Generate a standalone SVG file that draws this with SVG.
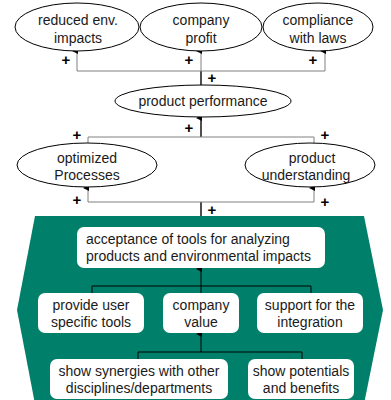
<svg xmlns="http://www.w3.org/2000/svg" width="391" height="400" viewBox="0 0 391 400">
<defs>
<style>
text{font-family:"Liberation Sans",Arial,sans-serif;font-size:14px;fill:#1a1a1a}
.c{text-anchor:middle}
.e{fill:#fff;stroke:#000;stroke-width:1}
.b{fill:#fff}
.g{fill:none;stroke:#808080;stroke-width:1}
.k{fill:none;stroke:#000;stroke-width:1}
.t{fill:none;stroke:#222;stroke-width:1.6}
.p{font-size:15px;font-weight:bold;fill:#000}
</style>
<marker id="ah" markerWidth="6" markerHeight="6" refX="3" refY="5" orient="auto-start-reverse" markerUnits="userSpaceOnUse" viewBox="0 0 6 6">
<path d="M0,6 L3,0 L6,6 Z" fill="#000"/>
</marker>
</defs>
<polygon points="35,216 364,216 383,310 364,404 35,404 17,310" fill="#00806A"/>
<g id="connectors">
<path class="t" d="M201,85 V71"/>
<path class="g" d="M77,71 H325"/>
<path class="g" d="M77,71 V51" marker-end="url(#ah)"/>
<path class="g" d="M201,71 V51" marker-end="url(#ah)"/>
<path class="g" d="M325,71 V51" marker-end="url(#ah)"/>
<path class="t" d="M201,137 V118" marker-end="url(#ah)"/>
<path class="g" d="M88,143 V137 H314 V143"/>
<path class="t" d="M201,216 V202"/>
<path class="g" d="M88,202 H314"/>
<path class="g" d="M88,202 V188" marker-end="url(#ah)"/>
<path class="g" d="M314,202 V188" marker-end="url(#ah)"/>
<path class="k" d="M92,293 V286 H311 V293"/>
<path class="k" d="M201,293 V269" marker-end="url(#ah)"/>
<path class="k" d="M138,359 V352 H302 V359"/>
<path class="k" d="M201,352 V334" marker-end="url(#ah)"/>
<text class="p c" x="66" y="65">+</text>
<text class="p c" x="189" y="65">+</text>
<text class="p c" x="313" y="65">+</text>
<text class="p c" x="212" y="83">+</text>
<text class="p c" x="189" y="133">+</text>
<text class="p c" x="77" y="140">+</text>
<text class="p c" x="325" y="140">+</text>
<text class="p c" x="77" y="205">+</text>
<text class="p c" x="325" y="207">+</text>
<text class="p c" x="212" y="215">+</text>
</g>
<g id="reduced"><ellipse class="e" cx="77" cy="27" rx="62" ry="24"/><text class="c" x="78" y="25">reduced env.</text><text class="c" x="78" y="43">impacts</text></g>
<g id="profit"><ellipse class="e" cx="201" cy="27" rx="61" ry="24"/><text class="c" x="201" y="25">company</text><text class="c" x="201" y="43">profit</text></g>
<g id="compliance"><ellipse class="e" cx="318" cy="27" rx="55" ry="24"/><text class="c" x="318" y="25">compliance</text><text class="c" x="318" y="43">with laws</text></g>
<g id="performance"><ellipse class="e" cx="203" cy="101" rx="88" ry="16"/><text class="c" x="203" y="106">product performance</text></g>
<g id="optimized"><ellipse class="e" cx="87" cy="165" rx="70" ry="22"/><text class="c" x="87" y="163">optimized</text><text class="c" x="87" y="180">Processes</text></g>
<g id="understanding"><ellipse class="e" cx="310" cy="165" rx="65" ry="22"/><text class="c" x="312" y="163">product</text><text class="c" x="306" y="180">understanding</text></g>
<g id="acceptance"><rect class="b" x="77" y="227" width="248" height="41" rx="7"/><text x="86" y="244">acceptance of tools for analyzing</text><text x="86" y="261">products and environmental impacts</text></g>
<g id="provide"><rect class="b" x="38" y="293" width="106" height="40" rx="7"/><text class="c" x="91" y="310">provide user</text><text class="c" x="91" y="327">specific tools</text></g>
<g id="value"><rect class="b" x="163" y="293" width="76" height="40" rx="7"/><text class="c" x="201" y="310">company</text><text class="c" x="201" y="327">value</text></g>
<g id="support"><rect class="b" x="257" y="293" width="106" height="40" rx="7"/><text class="c" x="310" y="310">support for the</text><text class="c" x="310" y="327">integration</text></g>
<g id="synergies"><rect class="b" x="50" y="359" width="178" height="40" rx="7"/><text class="c" x="139" y="376">show synergies with other</text><text class="c" x="139" y="393">disciplines/departments</text></g>
<g id="potentials"><rect class="b" x="248" y="359" width="106" height="40" rx="7"/><text class="c" x="301" y="376">show potentials</text><text class="c" x="301" y="393">and benefits</text></g>
</svg>
